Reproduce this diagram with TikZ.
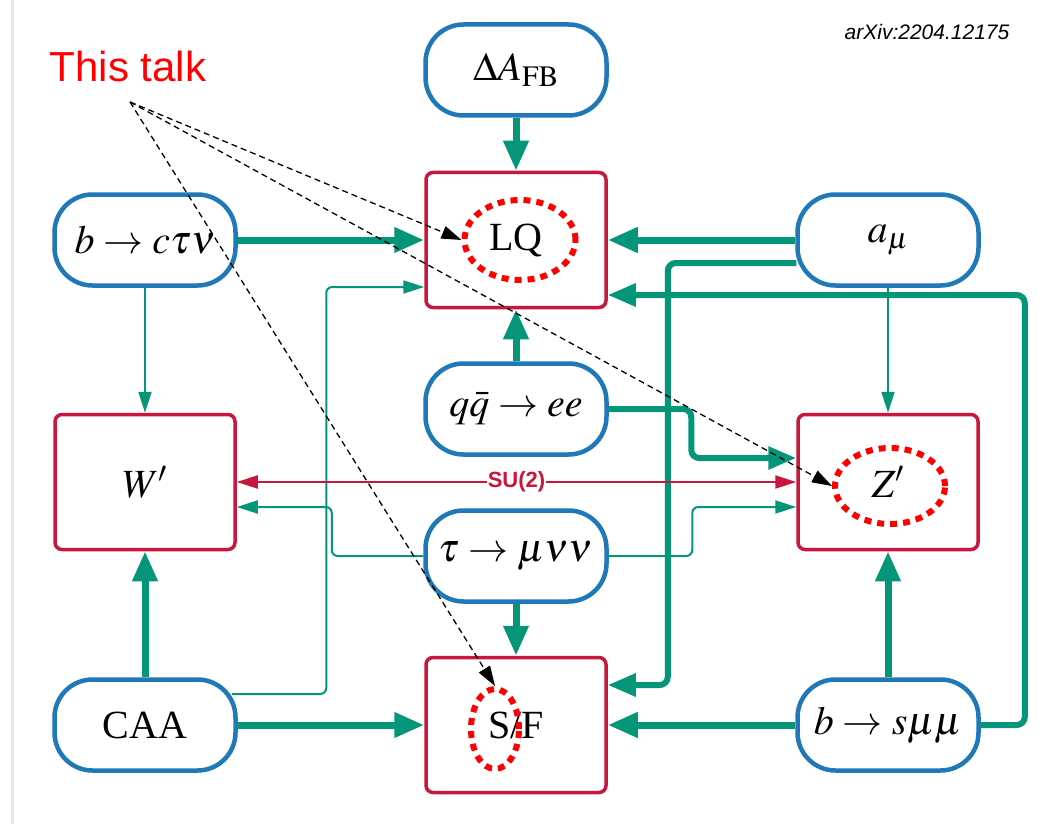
\documentclass[tikz,border=0pt]{standalone}
\usepackage{mathptmx}
\usepackage{fontspec}
\setmainfont{Liberation Serif}
\setsansfont{Liberation Sans}
\usetikzlibrary{arrows.meta,positioning,calc,shapes.geometric}
\definecolor{obsblue}{HTML}{1F78B8}
\definecolor{modred}{HTML}{C8163E}
\definecolor{link}{HTML}{05967A}
\definecolor{hilite}{HTML}{FF0000}

\begin{document}
\begin{tikzpicture}[x=1pt,y=-1pt,
  obs/.style={draw=obsblue,line width=4.5pt,rounded corners=38pt,fill=white,
    minimum width=181pt,minimum height=91pt,font=\fontsize{40}{48}\selectfont},
  model/.style={draw=modred,line width=3.5pt,rounded corners=7pt,fill=white,
    minimum width=180pt,minimum height=135pt,font=\fontsize{40}{48}\selectfont},
  fat/.style={draw=link,line width=7pt,-{Triangle[length=30pt,width=24pt]}},
  mid/.style={draw=link,line width=6pt,rounded corners=8pt,-{Triangle[length=28pt,width=22pt]}},
  slim/.style={draw=link,line width=2pt,rounded corners=6pt,-{Triangle[length=21pt,width=13pt]}},
  su2/.style={draw=modred,line width=2pt,{Triangle[length=21pt,width=13pt]}-{Triangle[length=21pt,width=13pt]}},
  ring/.style={ellipse,draw=hilite,line width=6pt,dash pattern=on 7pt off 6pt,inner sep=0pt},
  pointer/.style={black,line width=1.3pt,dash pattern=on 6pt off 4pt,-{Triangle[length=20pt,width=13pt]}},
]
  \useasboundingbox (0,0) rectangle (1055,824);
  % page edge
  \draw[gray!20,line width=3pt] (12,0) -- (12,824);
  % Labels
  \node[text=hilite,font=\sffamily\fontsize{42}{48}\selectfont] (talk) at (128,66) {This talk};
  \node[font=\sffamily\itshape\fontsize{21}{24}\selectfont] (arxiv) at (927,32) {arXiv:2204.12175};
  % Observables and models
  \node[obs] (dafb) at (516,70) {$\Delta A_{\mathrm{FB}}$};
  \node[model] (lq) at (516,240) {LQ};
  \node[obs] (bctn) at (145,240) {$b\to c\tau\nu$};
  \node[obs] (amu) at (888,240) {$a_\mu$};
  \node[model] (wp) at (145,482) {$W'$};
  \node[obs] (qqee) at (516,409) {$q\bar{q}\to ee$};
  \node[obs] (tmnn) at (516,556) {$\tau\to\mu\nu\nu$};
  \node[model] (zp) at (888,482) {$Z'$};
  \node[obs] (caa) at (145,725) {CAA};
  \node[model] (sf) at (516,725) {S/F};
  \node[obs] (bsmm) at (888,725) {$b\to s\mu\mu$};
  % Strong links
  \draw[fat] (dafb) -- (lq);
  \draw[fat] (bctn) -- (lq);
  \draw[fat] (amu) -- (lq);
  \draw[fat] (qqee) -- (lq);
  \draw[fat] (tmnn) -- (sf);
  \draw[fat] (caa) -- (sf);
  \draw[fat] (bsmm) -- (sf);
  \draw[fat] (caa) -- (wp);
  \draw[fat] (bsmm) -- (zp);
  \draw[mid] ([xshift=1pt,yshift=-23pt]amu.west) -| ([xshift=60pt,yshift=40pt]sf.east) -- ([yshift=40pt]sf.east);
  \draw[mid] (bsmm.east) -| ([xshift=417pt,yshift=-55pt]lq.east) -- ([yshift=-55pt]lq.east);
  \draw[mid] (qqee.east) -| ([xshift=-105pt,yshift=24pt]zp.west) -- ([yshift=24pt]zp.west);
  % Weak links
  \draw[slim] (bctn) -- (wp);
  \draw[slim] (amu) -- (zp);
  \draw[slim] ([xshift=-6pt,yshift=31pt]caa.east) -| ([xshift=-98pt,yshift=-47pt]lq.west) -- ([yshift=-47pt]lq.west);
  \draw[slim] (tmnn.west) -| ([xshift=95pt,yshift=-25pt]wp.east) -- ([yshift=-25pt]wp.east);
  \draw[slim] (tmnn.east) -| ([xshift=-104pt,yshift=-25pt]zp.west) -- ([yshift=-25pt]zp.west);
  % SU(2) relation
  \draw[su2] (wp) -- node[fill=white,inner sep=1pt,text=modred,font=\sffamily\bfseries\fontsize{22}{24}\selectfont] {SU(2)} (zp);
  % Highlights
  \node[ring,minimum width=111pt,minimum height=80pt] (lqring) at (520,240) {};
  \node[ring,minimum width=110pt,minimum height=76pt] (zpring) at (890,486) {};
  \node[ring,minimum width=48pt,minimum height=80pt] (sfring) at (495,729) {};
  \coordinate (src) at (130,102);
  \draw[pointer] (src) -- (lqring.west);
  \draw[pointer] (src) -- (zpring.west);
  \draw[pointer] (src) -- (sfring.north);
\end{tikzpicture}
\end{document}
